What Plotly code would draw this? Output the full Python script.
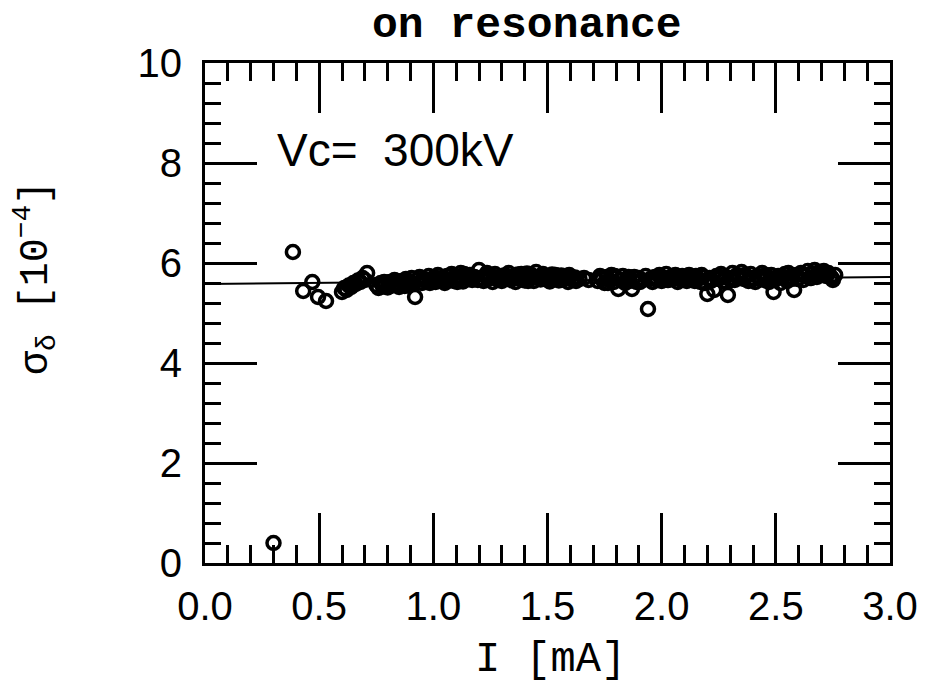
import plotly.graph_objects as go

# ---- data ----
current_mA = [
    0.30, 0.385, 0.43, 0.47, 0.495, 0.53,
    0.60, 0.61, 0.62, 0.63, 0.64, 0.65, 0.66, 0.67, 0.68, 0.69, 0.70, 0.71,
    0.75, 0.76, 0.77, 0.78, 0.79, 0.80, 0.81, 0.82, 0.83, 0.84, 0.85, 0.86, 0.87, 0.88, 0.89, 0.90, 0.91, 0.92,
    0.93, 0.94, 0.95, 0.96, 0.97, 0.98, 0.99, 1.00,
    1.01, 1.02, 1.03, 1.04, 1.05, 1.06, 1.07, 1.08, 1.09, 1.10, 1.11, 1.12, 1.13, 1.14, 1.15, 1.16, 1.17, 1.18,
    1.20, 1.21, 1.22, 1.23, 1.24, 1.25, 1.26, 1.27, 1.28, 1.29, 1.30, 1.31, 1.32, 1.33, 1.34, 1.35, 1.36, 1.37,
    1.38, 1.39, 1.40, 1.41, 1.42, 1.43, 1.44, 1.45, 1.46, 1.47, 1.48, 1.49, 1.50, 1.51, 1.52, 1.53, 1.54, 1.55,
    1.56, 1.57, 1.58, 1.59, 1.60, 1.61, 1.62, 1.64, 1.66, 1.68,
    1.72, 1.73, 1.74, 1.75, 1.76, 1.77, 1.78, 1.79, 1.80, 1.81, 1.82, 1.83, 1.84, 1.85, 1.86, 1.87, 1.88, 1.89,
    1.90, 1.91, 1.93, 1.94, 1.95, 1.96, 1.97, 1.98, 1.99, 2.00, 2.01, 2.02, 2.03, 2.04, 2.05, 2.06, 2.07, 2.08, 2.09,
    2.10, 2.11, 2.12, 2.13, 2.14, 2.15, 2.16, 2.17, 2.18, 2.19, 2.20, 2.21, 2.22, 2.23, 2.24, 2.25, 2.26, 2.27,
    2.28, 2.29, 2.30, 2.31, 2.32, 2.33, 2.34, 2.35, 2.36, 2.37, 2.38, 2.39, 2.40, 2.41, 2.42, 2.43, 2.44,
    2.45, 2.46, 2.47, 2.48, 2.49, 2.50, 2.51, 2.52, 2.53, 2.54, 2.55, 2.56, 2.57, 2.58, 2.59, 2.60, 2.61, 2.62,
    2.63, 2.64, 2.65, 2.66, 2.67, 2.68, 2.69, 2.70, 2.71, 2.72, 2.73, 2.74, 2.75, 2.76,
    # second pass of dense-band measurements
    0.785, 0.835, 0.875, 0.905, 0.955, 0.985, 1.015, 1.045, 1.075, 1.105, 1.135, 1.165, 1.195, 1.235, 1.265,
    1.295, 1.325, 1.355, 1.385, 1.415, 1.445, 1.475, 1.505, 1.535, 1.565, 1.595, 1.625, 1.735, 1.765, 1.795,
    1.855, 1.905, 1.965, 1.995, 2.025, 2.055, 2.085, 2.115, 2.145, 2.175, 2.215, 2.255, 2.305, 2.335, 2.365,
    2.395, 2.425, 2.455, 2.485, 2.525, 2.555, 2.595, 2.625, 2.655, 2.685, 2.715, 2.745,
]
sigma_delta = [
    0.40, 6.22, 5.44, 5.62, 5.32, 5.24,
    5.42, 5.50, 5.46, 5.55, 5.52, 5.60, 5.58, 5.65, 5.62, 5.70, 5.66, 5.80,
    5.56, 5.50, 5.60, 5.53, 5.58, 5.51, 5.62, 5.55, 5.66, 5.57, 5.52, 5.64, 5.58, 5.68, 5.55, 5.62, 5.58, 5.32,
    5.66, 5.72, 5.60, 5.68, 5.63, 5.74, 5.65, 5.70,
    5.62, 5.76, 5.66, 5.70, 5.60, 5.74, 5.67, 5.78, 5.64, 5.72, 5.68, 5.80, 5.63, 5.74, 5.69, 5.76, 5.66, 5.72,
    5.86, 5.70, 5.64, 5.76, 5.68, 5.73, 5.62, 5.78, 5.67, 5.72, 5.64, 5.75, 5.69, 5.80, 5.66, 5.73, 5.62, 5.77,
    5.68, 5.74, 5.65, 5.79, 5.70, 5.76, 5.64, 5.82, 5.71, 5.67, 5.78, 5.69, 5.74, 5.63, 5.77, 5.68, 5.72, 5.65,
    5.75, 5.67, 5.70, 5.62, 5.73, 5.66, 5.71, 5.68, 5.70, 5.66,
    5.64, 5.74, 5.68, 5.60, 5.72, 5.66, 5.76, 5.62, 5.70, 5.48, 5.66, 5.74, 5.60, 5.68, 5.64, 5.48, 5.72, 5.62,
    5.70, 5.66, 5.74, 5.08, 5.68, 5.62, 5.72, 5.66, 5.76, 5.64, 5.70, 5.78, 5.66, 5.72, 5.68, 5.76, 5.62, 5.70, 5.74,
    5.68, 5.64, 5.76, 5.70, 5.66, 5.74, 5.68, 5.62, 5.72, 5.60, 5.38, 5.70, 5.66, 5.46, 5.74, 5.68, 5.78, 5.64,
    5.72, 5.36, 5.70, 5.80, 5.66, 5.76, 5.70, 5.82, 5.68, 5.74, 5.64, 5.78, 5.70, 5.62, 5.74, 5.68, 5.80,
    5.66, 5.72, 5.62, 5.76, 5.42, 5.68, 5.74, 5.60, 5.70, 5.78, 5.64, 5.72, 5.68, 5.46, 5.76, 5.70, 5.80, 5.66,
    5.74, 5.84, 5.70, 5.78, 5.86, 5.72, 5.82, 5.76, 5.84, 5.74, 5.80, 5.72, 5.66, 5.76,
    5.62, 5.60, 5.54, 5.70, 5.66, 5.60, 5.70, 5.64, 5.74, 5.62, 5.78, 5.70, 5.66, 5.80, 5.72,
    5.66, 5.74, 5.70, 5.78, 5.64, 5.72, 5.74, 5.66, 5.76, 5.70, 5.76, 5.64, 5.70, 5.60, 5.74,
    5.72, 5.62, 5.70, 5.72, 5.66, 5.74, 5.66, 5.72, 5.64, 5.76, 5.64, 5.72, 5.66, 5.72, 5.76,
    5.66, 5.72, 5.76, 5.66, 5.74, 5.80, 5.68, 5.76, 5.70, 5.80, 5.78, 5.70,
]
fit_x = [0.0, 3.0]
fit_y = [5.58, 5.72]

x_ticks = [0.0, 0.5, 1.0, 1.5, 2.0, 2.5, 3.0]
x_ticklabels = ["0.0", "0.5", "1.0", "1.5", "2.0", "2.5", "3.0"]
y_ticks = [0, 2, 4, 6, 8, 10]
y_ticklabels = ["0", "2", "4", "6", "8", "10"]

SANS = "Liberation Sans, Arial, sans-serif"
MONO = "Liberation Mono, Courier New, monospace"

fig = go.Figure()
fig.add_trace(go.Scatter(
    x=fit_x, y=fit_y, mode="lines",
    line=dict(color="black", width=2), showlegend=False, hoverinfo="skip",
))
fig.add_trace(go.Scatter(
    x=current_mA, y=sigma_delta, mode="markers",
    marker=dict(symbol="circle-open", size=13, color="black", line=dict(width=3.5, color="black")),
    showlegend=False,
))

axis_common = dict(
    showgrid=False, zeroline=False, showline=True, linecolor="black", linewidth=3,
    mirror="ticks", ticks="inside", tickcolor="black", tickwidth=3,
    tickfont=dict(family=SANS, size=40, color="black"),
)

fig.update_xaxes(
    range=[0, 3], tickmode="array", tickvals=x_ticks, ticktext=x_ticklabels,
    ticklen=50, ticklabelstandoff=6,
    minor=dict(dtick=0.1, ticks="inside", ticklen=18, tickwidth=3, tickcolor="black"),
    **axis_common,
)
fig.update_yaxes(
    range=[0, 10], tickmode="array", tickvals=y_ticks, ticktext=y_ticklabels,
    ticklen=52, ticklabelstandoff=12,
    minor=dict(dtick=0.4, ticks="inside", ticklen=16, tickwidth=3, tickcolor="black"),
    **axis_common,
)

fig.add_annotation(x=0.305, y=8.26, xref="x", yref="y", xanchor="left", yanchor="middle",
                   text="Vc=&nbsp;&nbsp;300kV", showarrow=False,
                   font=dict(family=SANS, size=46, color="black"))
fig.add_annotation(x=0.47, y=1.074, xref="paper", yref="paper", xanchor="center", yanchor="middle",
                   text="<b>on resonance</b>", showarrow=False,
                   font=dict(family=MONO, size=43, color="black"))
fig.add_annotation(x=0.504, y=-0.194, xref="paper", yref="paper", xanchor="center", yanchor="middle",
                   text="I [mA]", showarrow=False,
                   font=dict(family=MONO, size=42, color="black"))
fig.add_annotation(x=-0.248, y=0.57, xref="paper", yref="paper", xanchor="center", yanchor="middle",
                   text="σ<sub>δ</sub> [10<sup>−4</sup>]", showarrow=False, textangle=-90,
                   font=dict(family=MONO, size=40, color="black"))

fig.update_layout(
    width=933, height=693,
    margin=dict(l=205, r=43, t=63, b=130),
    paper_bgcolor="white", plot_bgcolor="white",
)

fig.write_html("out.html")
